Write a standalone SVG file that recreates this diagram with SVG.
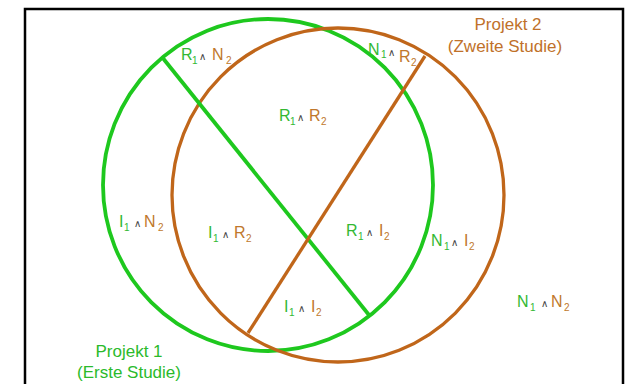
<svg xmlns="http://www.w3.org/2000/svg" width="627" height="384" viewBox="0 0 627 384">
<style>
.t{font-family:"Liberation Sans",Arial,sans-serif;font-size:16px}
.s{font-size:10px}
.op{font-family:"DejaVu Sans",sans-serif;font-size:10px;fill:#444}
.g{fill:#33b833}
.b{fill:#c0782c}
.lg{fill:#2bba2b;font-size:17px}
.lb{fill:#c0712a;font-size:17px}
</style>
<rect width="627" height="384" fill="#fff"/>
<rect x="25" y="9" width="598" height="400" fill="#fff" stroke="#000" stroke-width="2.5"/>
<g id="projekt1"><ellipse cx="268" cy="185" rx="165" ry="166" fill="none" stroke="#1ec81e" stroke-width="3.8"/></g>
<g id="projekt2"><ellipse cx="338" cy="195" rx="166" ry="167" fill="none" stroke="#c0661a" stroke-width="3.3"/></g>
<g id="connectors">
<line x1="162" y1="57" x2="369" y2="315" stroke="#1ec81e" stroke-width="3.8"/>
<line x1="425" y1="56" x2="248" y2="333" stroke="#c0661a" stroke-width="3.3"/>
</g>
<g id="label-projekt2" class="t">
<text class="lb" x="508" y="30" text-anchor="middle">Projekt 2</text>
<text class="lb" x="505" y="52" text-anchor="middle">(Zweite Studie)</text>
</g>
<g id="label-projekt1" class="t">
<text class="lg" x="129" y="357" text-anchor="middle">Projekt 1</text>
<text class="lg" x="129" y="378" text-anchor="middle">(Erste Studie)</text>
</g>
<g id="r1n2" class="t"><text><tspan class="g" x="181" y="60">R</tspan><tspan class="g s" x="192" y="64">1</tspan><tspan class="op" x="199" y="60">∧</tspan><tspan class="b" x="212" y="60">N</tspan><tspan class="b s" x="226" y="64">2</tspan></text></g>
<g id="n1r2" class="t"><text><tspan class="g" x="368" y="55">N</tspan><tspan class="g s" x="381" y="58">1</tspan><tspan class="op" x="388" y="56">∧</tspan><tspan class="b" x="399" y="62">R</tspan><tspan class="b s" x="411" y="66">2</tspan></text></g>
<g id="r1r2" class="t"><text><tspan class="g" x="279" y="121">R</tspan><tspan class="g s" x="290" y="125">1</tspan><tspan class="op" x="297" y="121">∧</tspan><tspan class="b" x="309" y="121">R</tspan><tspan class="b s" x="321" y="125">2</tspan></text></g>
<g id="i1n2" class="t"><text><tspan class="g" x="119" y="227">I</tspan><tspan class="g s" x="124" y="231">1</tspan><tspan class="op" x="134" y="227">∧</tspan><tspan class="b" x="144" y="227">N</tspan><tspan class="b s" x="158" y="231">2</tspan></text></g>
<g id="i1r2" class="t"><text><tspan class="g" x="208" y="238">I</tspan><tspan class="g s" x="213" y="242">1</tspan><tspan class="op" x="222" y="238">∧</tspan><tspan class="b" x="234" y="238">R</tspan><tspan class="b s" x="246" y="242">2</tspan></text></g>
<g id="r1i2" class="t"><text><tspan class="g" x="346" y="236">R</tspan><tspan class="g s" x="358" y="240">1</tspan><tspan class="op" x="366" y="236">∧</tspan><tspan class="b" x="379" y="236">I</tspan><tspan class="b s" x="384" y="240">2</tspan></text></g>
<g id="n1i2" class="t"><text><tspan class="g" x="431" y="246">N</tspan><tspan class="g s" x="444" y="250">1</tspan><tspan class="op" x="451" y="246">∧</tspan><tspan class="b" x="464" y="246">I</tspan><tspan class="b s" x="469" y="250">2</tspan></text></g>
<g id="i1i2" class="t"><text><tspan class="g" x="284" y="312">I</tspan><tspan class="g s" x="289" y="316">1</tspan><tspan class="op" x="298" y="312">∧</tspan><tspan class="b" x="311" y="312">I</tspan><tspan class="b s" x="316" y="316">2</tspan></text></g>
<g id="n1n2" class="t"><text><tspan class="g" x="517" y="307">N</tspan><tspan class="g s" x="530" y="311">1</tspan><tspan class="op" x="541" y="307">∧</tspan><tspan class="b" x="551" y="307">N</tspan><tspan class="b s" x="564" y="311">2</tspan></text></g>
</svg>
